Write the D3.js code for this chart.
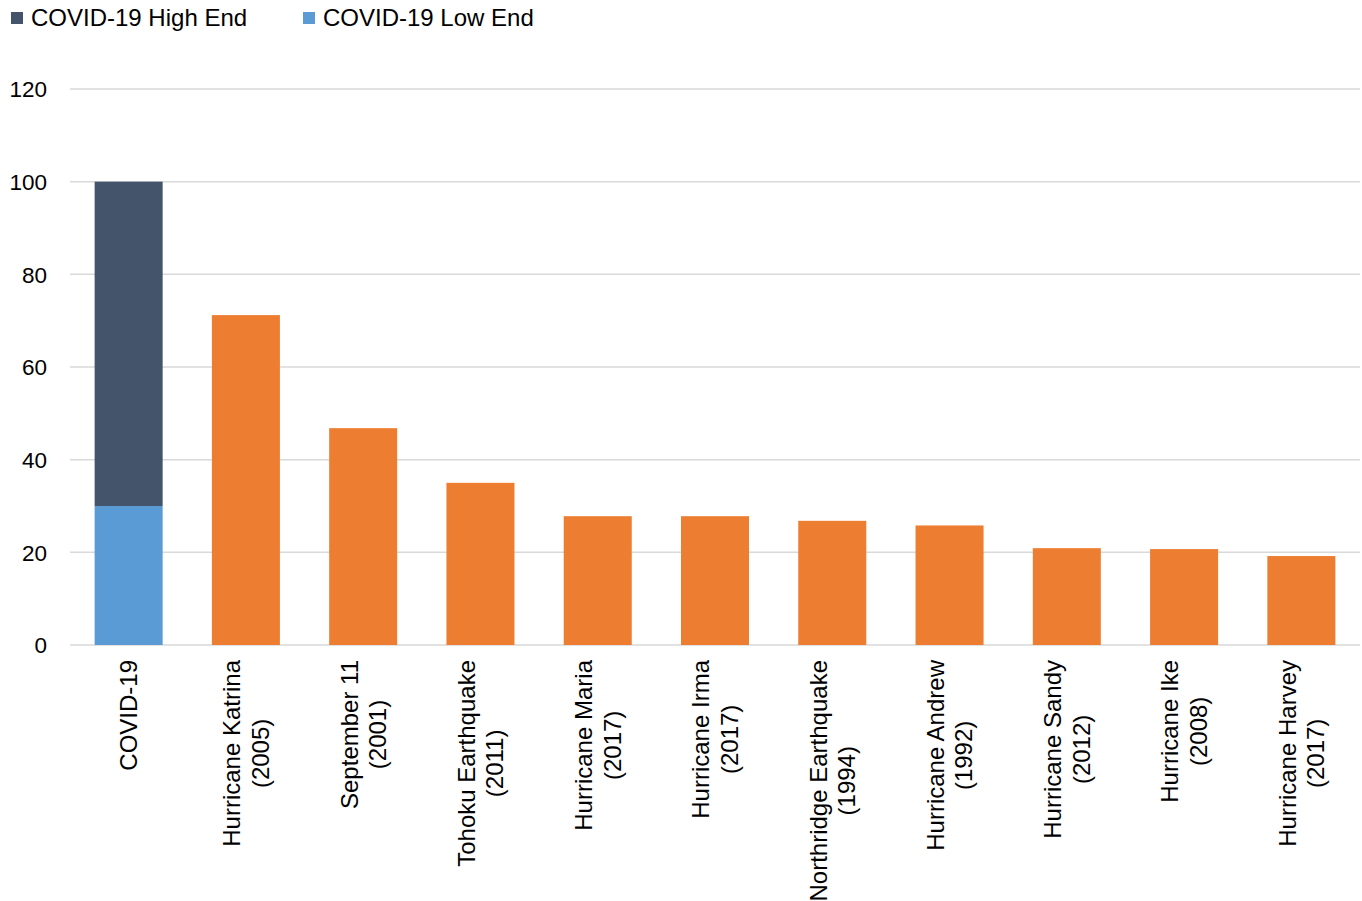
<!DOCTYPE html>
<html><head><meta charset="utf-8">
<script src="https://cdn.jsdelivr.net/npm/d3@7"></script>
<style>body{margin:0;background:#fff;} svg{display:block;font-family:"Liberation Sans",Arial,sans-serif;}</style>
</head><body>
<script>
const categories = [
  ["COVID-19"],
  ["Hurricane Katrina","(2005)"],
  ["September 11","(2001)"],
  ["Tohoku Earthquake","(2011)"],
  ["Hurricane Maria","(2017)"],
  ["Hurricane Irma","(2017)"],
  ["Northridge Earthquake","(1994)"],
  ["Hurricane Andrew","(1992)"],
  ["Hurricane Sandy","(2012)"],
  ["Hurricane Ike","(2008)"],
  ["Hurricane Harvey","(2017)"]
];
const covidLow = [30, 0, 0, 0, 0, 0, 0, 0, 0, 0, 0];
const covidHigh = [70, 0, 0, 0, 0, 0, 0, 0, 0, 0, 0];
const otherEvents = [0, 71.2, 46.8, 35.0, 27.8, 27.8, 26.8, 25.8, 20.9, 20.7, 19.2];
const yTicks = [0, 20, 40, 60, 80, 100, 120];
const legendItems = ["COVID-19 High End", "COVID-19 Low End"];
const colors = {high:"#44546a", low:"#5b9bd5", other:"#ed7d31", grid:"#d9d9d9"};

const W = 1362, H = 901;
const svg = d3.select("body").append("svg").attr("width", W).attr("height", H);
const keys = categories.map((c,i)=>i);
const x = d3.scaleBand().domain(keys).range([70, 1360]).paddingInner(0.42).paddingOuter(0.21);
const y = d3.scaleLinear().domain([0,120]).range([645, 89]);

// grid
svg.append("g").selectAll("line").data(yTicks).join("line")
  .attr("x1",70).attr("x2",1360).attr("y1",d=>y(d)).attr("y2",d=>y(d))
  .attr("stroke",colors.grid).attr("stroke-width",1.5);

// y axis labels
const yAxis = d3.axisLeft(y).tickValues(yTicks).tickSize(0).tickPadding(0);
const gy = svg.append("g").attr("transform","translate(47,0)").call(yAxis);
gy.select(".domain").remove();
gy.selectAll("text").attr("font-size",22.5).attr("fill","#000").attr("font-family","Liberation Sans, Arial, sans-serif").attr("dy","0.35em");

// stacked data
const rows = keys.map(i=>({i, low:covidLow[i], high:covidHigh[i], other:otherEvents[i]}));
const stack = d3.stack().keys(["low","high","other"])(rows);
svg.append("g").selectAll("g").data(stack).join("g")
  .attr("fill", d=>colors[d.key])
  .selectAll("rect").data(d=>d.filter(p=>p[1]-p[0]>0)).join("rect")
  .attr("x", d=>x(d.data.i)).attr("width", x.bandwidth())
  .attr("y", d=>y(d[1])).attr("height", d=>y(d[0])-y(d[1]));

// x labels
const fs = 24, lh = 28.5;
const lab = svg.append("g");
categories.forEach((lines,i)=>{
  const cx = x(i) + x.bandwidth()/2;
  const g = lab.append("g").attr("transform",`translate(${cx},660) rotate(-90)`);
  const texts = lines.map((ln,j)=>g.append("text").attr("font-size",fs).attr("fill","#000")
    .attr("text-anchor","middle")
    .attr("y", 8.6 + (j-(lines.length-1)/2)*lh).text(ln));
  const maxLen = d3.max(texts, t=>t.node().getComputedTextLength());
  texts.forEach(t=>t.attr("x", -maxLen/2));
});

// legend
const legX = [11, 303];
legendItems.forEach((name,i)=>{
  svg.append("rect").attr("x",legX[i]).attr("y",12).attr("width",12).attr("height",12)
    .attr("fill", i===0?colors.high:colors.low);
  svg.append("text").attr("x",legX[i]+20).attr("y",26).attr("font-size",24).attr("fill","#000").text(name);
});
</script>
</body></html>
